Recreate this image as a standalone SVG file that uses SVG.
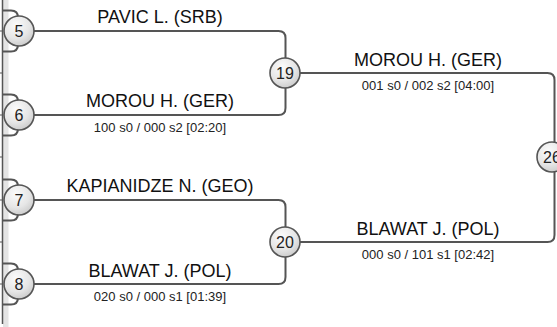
<svg xmlns="http://www.w3.org/2000/svg" width="557" height="327" viewBox="0 0 557 327">
<style>
.ln{fill:none;stroke:#555;stroke-width:2}
.nd{fill:url(#g);stroke:#555;stroke-width:1.6}
.num{font-family:"Liberation Sans",Arial,sans-serif;font-size:16px;fill:#222;text-anchor:middle}
.nm{font-family:"Liberation Sans",Arial,sans-serif;font-size:18px;fill:#111;text-anchor:middle}
.sc{font-family:"Liberation Sans",Arial,sans-serif;font-size:13px;fill:#222;text-anchor:middle}
</style>
<defs>
<radialGradient id="g" cx="0.4" cy="0.3" r="0.75">
<stop offset="0" stop-color="#fbfbfb"/>
<stop offset="0.6" stop-color="#e6e6e6"/>
<stop offset="1" stop-color="#c9c9c9"/>
</radialGradient>
</defs>
<rect width="557" height="327" fill="#fff"/>
<rect x="3" y="0" width="5.5" height="327" fill="#e4e4e4"/>
<g id="connectors">
<line x1="2.5" y1="0" x2="2.5" y2="324" stroke="#555" stroke-width="1.5"/>
<g stroke="#555" stroke-width="1.2">
<line x1="0" y1="31" x2="2" y2="31"/><line x1="0" y1="73" x2="2" y2="73"/>
<line x1="0" y1="115" x2="2" y2="115"/><line x1="0" y1="157" x2="2" y2="157"/>
<line x1="0" y1="200" x2="2" y2="200"/><line x1="0" y1="242" x2="2" y2="242"/>
<line x1="0" y1="284" x2="2" y2="284"/>
</g>
<path class="ln" d="M3,10.5 H11 Q18,10.5 18,17.5 M3,51.5 H11 Q18,51.5 18,44.5"/>
<path class="ln" d="M3,94.5 H11 Q18,94.5 18,101.5 M3,135.5 H11 Q18,135.5 18,128.5"/>
<path class="ln" d="M3,179.5 H11 Q18,179.5 18,186.5 M3,220.5 H11 Q18,220.5 18,213.5"/>
<path class="ln" d="M3,263.5 H11 Q18,263.5 18,270.5 M3,304.5 H11 Q18,304.5 18,297.5"/>
<path class="ln" d="M34,31 H278.5 Q285.5,31 285.5,38 V73"/>
<path class="ln" d="M34,115 H278.5 Q285.5,115 285.5,108 V73"/>
<path class="ln" d="M34,200 H278.5 Q285.5,200 285.5,207 V242"/>
<path class="ln" d="M34,284 H278.5 Q285.5,284 285.5,277 V242"/>
<path class="ln" d="M300,73 H547.5 Q554.5,73 554.5,80 V157"/>
<path class="ln" d="M300,242 H547.5 Q554.5,242 554.5,235 V157"/>
</g>
<g id="labels">
<text class="nm" x="160" y="23">PAVIC L. (SRB)</text>
<text class="nm" x="160" y="107">MOROU H. (GER)</text>
<text class="sc" x="160" y="132">100 s0 / 000 s2 [02:20]</text>
<text class="nm" x="160" y="192">KAPIANIDZE N. (GEO)</text>
<text class="nm" x="160" y="277">BLAWAT J. (POL)</text>
<text class="sc" x="160" y="301">020 s0 / 000 s1 [01:39]</text>
<text class="nm" x="428" y="66">MOROU H. (GER)</text>
<text class="sc" x="428" y="90">001 s0 / 002 s2 [04:00]</text>
<text class="nm" x="428" y="235">BLAWAT J. (POL)</text>
<text class="sc" x="428" y="259">000 s0 / 101 s1 [02:42]</text>
</g>
<g id="node-5"><circle class="nd" cx="19" cy="31" r="15"/><text class="num" x="19" y="36.5">5</text></g>
<g id="node-6"><circle class="nd" cx="19" cy="115" r="15"/><text class="num" x="19" y="120.5">6</text></g>
<g id="node-7"><circle class="nd" cx="19" cy="200" r="15"/><text class="num" x="19" y="205.5">7</text></g>
<g id="node-8"><circle class="nd" cx="19" cy="284" r="15"/><text class="num" x="19" y="289.5">8</text></g>
<g id="node-19"><circle class="nd" cx="285" cy="73" r="15"/><text class="num" x="285" y="78.5">19</text></g>
<g id="node-20"><circle class="nd" cx="285" cy="242" r="15"/><text class="num" x="285" y="247.5">20</text></g>
<g id="node-26"><circle class="nd" cx="552" cy="157" r="15"/><text class="num" x="552" y="162.5">26</text></g>
</svg>
